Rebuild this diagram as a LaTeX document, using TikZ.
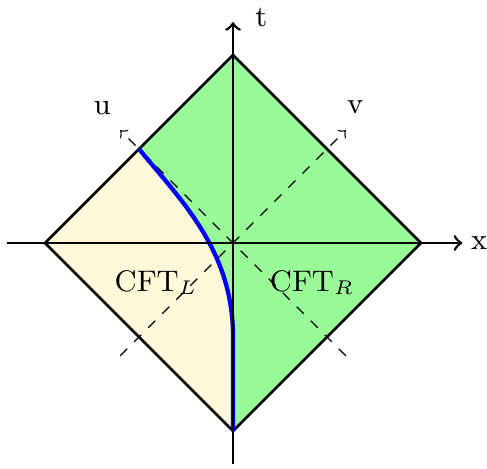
\documentclass[tikz,border=0pt]{standalone}
\definecolor{bulkgreen}{RGB}{152,251,152}
\definecolor{bulkyellow}{RGB}{255,249,218}
\begin{document}
\begin{tikzpicture}[font=\small]
	\useasboundingbox (-2.479,-2.394) rectangle (2.702,2.585);
	% regions
	\draw [fill = bulkgreen] (-2,0) -- (0,2) -- (2,0) -- (0,-2) -- cycle;
	\fill [bulkyellow] (-2,0) -- (-1,1) .. controls (-0.55,0.45) and (0,-0.08) .. (0,-1) -- (0,-2) -- cycle;
	\draw [thick] (-2,0) -- (0,2) -- (2,0) -- (0,-2) -- cycle;
	% light-cone coordinates
	\draw [dashed, ->] (1.2,-1.2) -- (-1.2,1.2);
	\draw [dashed, ->] (-1.2,-1.2) -- (1.2,1.2);
	% brane
	\draw [line width=1.3pt, blue] (-1,1) .. controls (-0.55,0.45) and (0,-0.08) .. (0,-1) -- (0,-2);
	% axes
	\draw [thick, ->] (-2.4,0) -- (2.44,0);
	\draw [thick, ->] (0,-2.35) -- (0,2.35);
	\draw (2.62,0) node (xlab) {x};
	\draw (0.3,2.4) node (tlab) {t};
	\draw (-1.39,1.44) node (ulab) {u};
	\draw (1.3,1.44) node (vlab) {v};
	\draw (-0.82,-0.42) node (cftl) {CFT$_L$};
	\draw (0.84,-0.42) node (cftr) {CFT$_R$};
\end{tikzpicture}
\end{document}
